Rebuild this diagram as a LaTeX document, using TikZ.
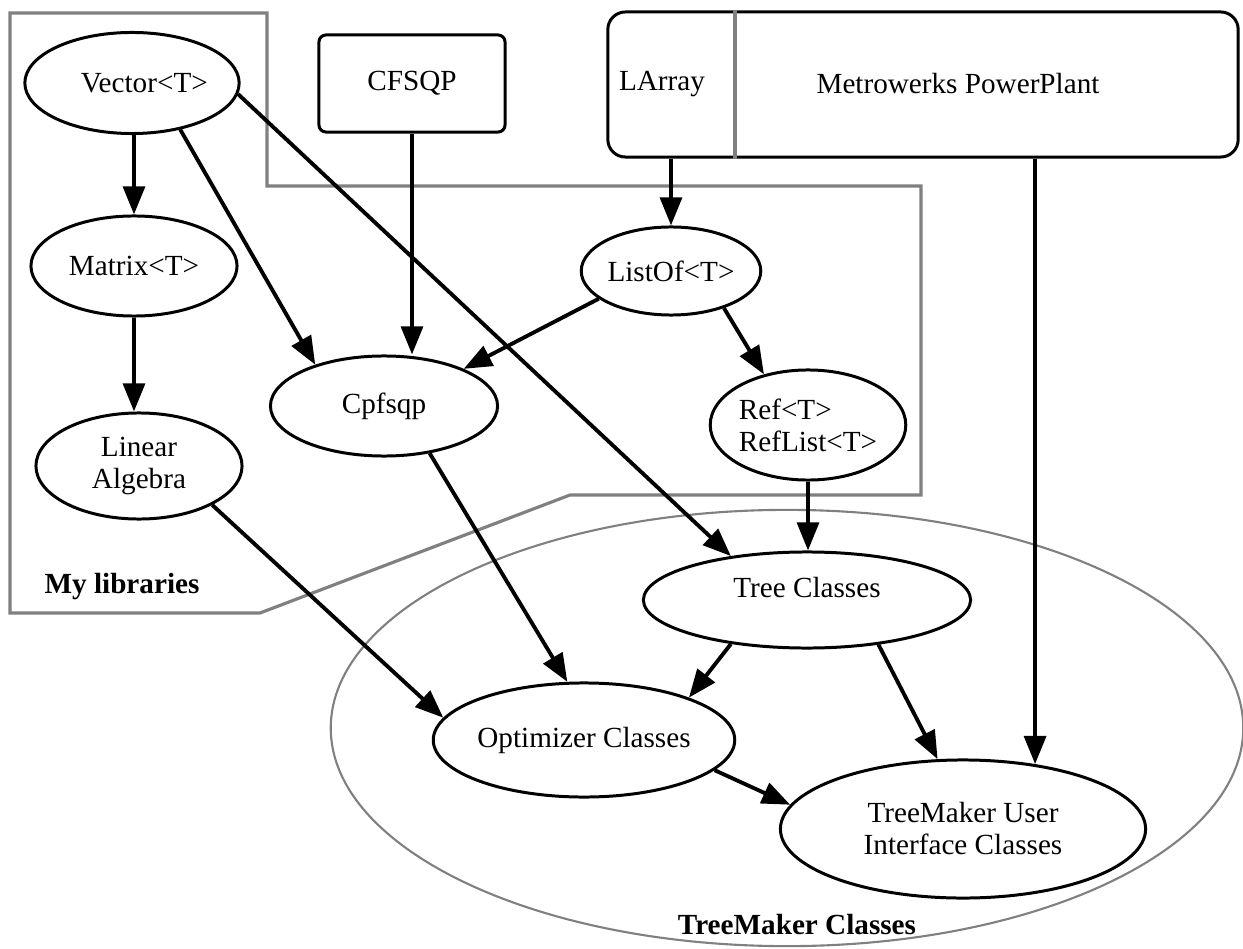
\documentclass[tikz,border=0pt]{standalone}
\usepackage{fontspec}
\setmainfont{Liberation Serif}
\usetikzlibrary{shapes.geometric,arrows.meta}
\begin{document}
\begin{tikzpicture}[x=0.01cm,y=-0.01cm,
  cls/.style={ellipse,draw,line width=0.85pt,fill=white,inner sep=0pt},
  libbox/.style={draw,line width=0.85pt,fill=white,inner sep=0pt},
  conn/.style={-{Triangle[length=8pt,width=6.2pt]},line width=1.1pt},
  frame/.style={draw=gray,line width=0.9pt}]\fontsize{8.3}{9.1}\selectfont
\useasboundingbox (0,0) rectangle (1243,949);
% frames
\draw[frame] (10,13) -- (267,13) -- (267,186) -- (921,186) -- (921,495) -- (570,495) -- (260,613) -- (10,613) -- cycle;
\draw[draw=gray,line width=0.6pt] (787,728) ellipse [x radius=4.56cm,y radius=2.18cm];
\node[font=\bfseries] (mylib) at (122,587) {My libraries};
\node[font=\bfseries] (tmcls) at (797,925) {TreeMaker Classes};
% libraries
\node[libbox,rounded corners=2pt,minimum width=1.86cm,minimum height=0.97cm] (cfs) at (412,83.5) {CFSQP};
\node[libbox,rounded corners=5pt,minimum width=6.3cm,minimum height=1.45cm] (pp) at (923,84.5) {};
\coordinate (div) at (735,84);
\draw[frame] (pp.north -| div) -- (pp.south -| div);
\node (larr) at (662,84) {LArray};
\node (mwpp) at (958,84) {Metrowerks PowerPlant};
% classes
\node[cls,minimum width=2.08cm,minimum height=1.01cm] (vec) at (132,83) {\hspace*{7pt}Vector<T>};
\node[cls,minimum width=2.06cm,minimum height=1cm] (mat) at (134,266) {Matrix<T>};
\node[cls,minimum width=2.06cm,minimum height=1.06cm,align=center] (lin) at (139,466) {Linear\\Algebra};
\node[cls,minimum width=2.27cm,minimum height=1cm] (cpf) at (384,406) {Cpfsqp};
\node[cls,minimum width=1.76cm,minimum height=0.88cm] (lst) at (671,271) {ListOf<T>};
\node[cls,minimum width=1.8cm,minimum height=1.1cm,align=left] (ref) at (808,425) {Ref<T>\\RefList<T>};
\node[cls,minimum width=3.27cm,minimum height=0.96cm,text depth=7pt] (tre) at (807,600) {Tree Classes};
\node[cls,minimum width=2.98cm,minimum height=1.14cm] (opt) at (584,740) {Optimizer Classes};
\node[cls,minimum width=3.65cm,minimum height=1.38cm,align=center] (tui) at (963,829) {TreeMaker User\\Interface Classes};
% connectors
\draw[conn] (mat.north |- vec.south) -- (mat.north);
\draw[conn] (mat.south) -- (mat.south |- lin.north);
\draw[conn] (cfs.south) -- (cfs.south |- cpf.north);
\draw[conn] (pp.south -| lst.north) -- (lst.north);
\draw[conn] (ref.south) -- (ref.south |- tre.north);
\draw[conn] (pp.south -| tui.42) -- (tui.42);
\foreach \a/\b in {vec.-44/cpf.149, vec.-6/tre.150, lst.-159/cpf.25, lst.-35/ref.131,
  cpf.-46/opt.106, lin.-28/opt.171, tre.-150/opt.22, tre.-32/tui.110, opt.-13/tui.172}
  \draw[conn] (\a) -- (\b);
\end{tikzpicture}
\end{document}
